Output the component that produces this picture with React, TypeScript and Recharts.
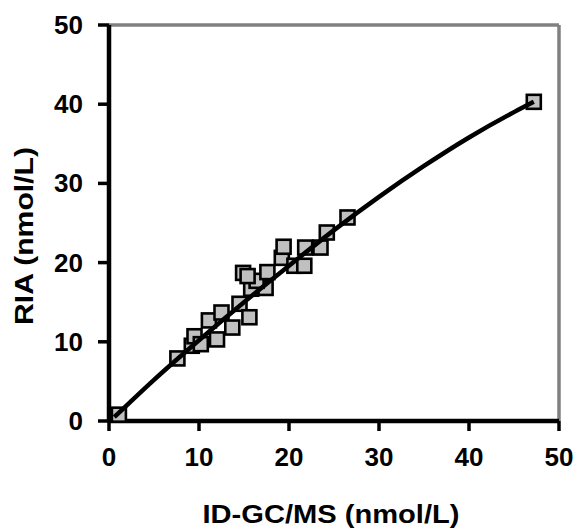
import React from 'react';
import { ComposedChart, XAxis, YAxis, Scatter, ReferenceLine, Label } from 'recharts';

// Measured pairs: ID-GC/MS (x) vs RIA (y), nmol/L
const gcmsValues = [1.1, 7.6, 9.2, 9.5, 10.2, 11.1, 12.0, 12.5, 13.7, 14.5, 15.6, 15.8, 17.4, 16.4, 14.9, 15.4, 17.6, 19.2, 19.4, 20.6, 21.7, 21.8, 23.5, 24.2, 26.5, 47.2];
const riaValues = [0.8, 7.9, 9.5, 10.7, 9.7, 12.7, 10.3, 13.7, 11.8, 14.8, 13.1, 16.7, 16.8, 17.7, 18.7, 18.3, 18.8, 20.6, 22.0, 19.6, 19.6, 21.9, 21.9, 23.8, 25.7, 40.3];

// Fitted trend curve
const curveX = [0.6, 5, 10, 15, 20, 25, 30, 35, 40, 45, 47.2];
const curveY = [0.5, 5.2, 10.2, 15.0, 19.6, 24.1, 28.3, 32.2, 35.8, 39.0, 40.3];

const axisTicks = [0, 10, 20, 30, 40, 50];
const xTitle = 'ID-GC/MS (nmol/L)';
const yTitle = 'RIA (nmol/L)';

const points = gcmsValues.map((x, i) => ({ x, y: riaValues[i] }));
const curve = curveX.map((x, i) => ({ x, y: curveY[i] }));

const FONT = '"Liberation Sans", Arial, sans-serif';

const SquareShape = (props: any) => {
  const { cx, cy } = props;
  if (cx == null || cy == null) return null;
  const s = 14;
  return <rect x={cx - s / 2} y={cy - s / 2} width={s} height={s} fill="#C0C0C0" stroke="#000" strokeWidth={2.6} />;
};

const NoShape = () => <g />;

const XTick = (props: any) => {
  const { x, y, payload } = props;
  return (
    <text x={x} y={y + 19} textAnchor="middle" fontFamily={FONT} fontWeight="bold" fontSize={26} fill="#000">
      {payload.value}
    </text>
  );
};

const YTick = (props: any) => {
  const { x, y, payload } = props;
  return (
    <text x={x} y={y + 9} textAnchor="end" fontFamily={FONT} fontWeight="bold" fontSize={26} fill="#000">
      {payload.value}
    </text>
  );
};

export default function App() {
  return (
    <div style={{ position: 'absolute', left: 0, top: 0, width: 577, height: 531, background: '#fff' }}>
      <ComposedChart width={577} height={531} margin={{ top: 25, right: 18, bottom: 0, left: 0 }}>
        <ReferenceLine y={50} stroke="#808080" strokeWidth={3.5} />
        <ReferenceLine x={50} stroke="#808080" strokeWidth={3.5} />
        <XAxis
          type="number"
          dataKey="x"
          domain={[0, 50]}
          ticks={axisTicks}
          height={110}
          axisLine={{ stroke: '#000', strokeWidth: 4.5 }}
          tickLine={{ stroke: '#000', strokeWidth: 3.5 }}
          tickSize={10}
          tickMargin={16}
          tick={<XTick />}
          allowDataOverflow
        >
          <Label
            content={() => (
              <text x={331} y={523} textAnchor="middle" fontFamily={FONT} fontWeight="bold" fontSize={25} fill="#000" textLength={257} lengthAdjust="spacingAndGlyphs">
                {xTitle}
              </text>
            )}
          />
        </XAxis>
        <YAxis
          type="number"
          domain={[0, 50]}
          ticks={axisTicks}
          width={109}
          axisLine={{ stroke: '#000', strokeWidth: 4.5 }}
          tickLine={{ stroke: '#000', strokeWidth: 3.5 }}
          tickSize={11}
          tickMargin={15}
          tick={<YTick />}
          allowDataOverflow
        >
          <Label
            content={() => (
              <text
                x={33}
                y={236}
                transform="rotate(-90, 33, 236)"
                textAnchor="middle"
                fontFamily={FONT}
                fontWeight="bold"
                fontSize={25}
                fill="#000"
                textLength={178}
                lengthAdjust="spacingAndGlyphs"
              >
                {yTitle}
              </text>
            )}
          />
        </YAxis>
        <Scatter data={points} dataKey="y" shape={<SquareShape />} isAnimationActive={false} />
        <Scatter
          data={curve}
          dataKey="y"
          shape={<NoShape />}
          line={{ stroke: '#000', strokeWidth: 4.5, fill: 'none' }}
          lineType="joint"
          lineJointType="monotoneX"
          isAnimationActive={false}
        />
      </ComposedChart>
    </div>
  );
}
